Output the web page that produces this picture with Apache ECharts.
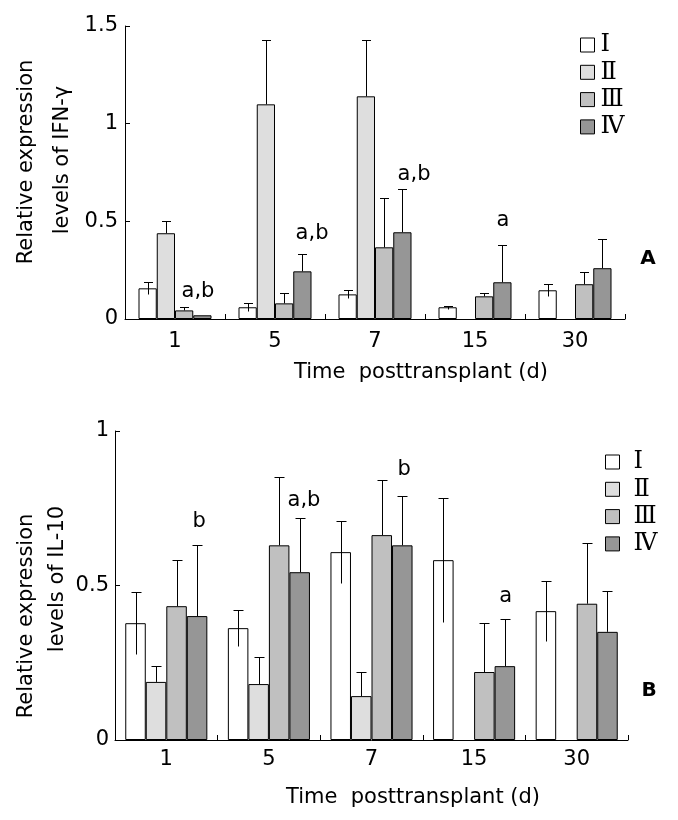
<!DOCTYPE html>
<html><head><meta charset="utf-8">
<script src="https://cdn.jsdelivr.net/npm/echarts@6/dist/echarts.min.js"></script>
<style>html,body{margin:0;padding:0;background:#fff}#c{width:678px;height:820px}</style>
</head><body><div id="c"></div>
<script>
// ---- data ----
const categories = ['1', '5', '7', '15', '30'];
const groups = ['Ⅰ', 'Ⅱ', 'Ⅲ', 'Ⅳ'];
const groupColors = ['#ffffff', '#dedede', '#c0c0c0', '#969696'];

// IFN-γ (panel A): means and SD
const ifnI   = [0.157, 0.060, 0.126, 0.060, 0.147];
const ifnII  = [0.439, 1.099, 1.140, null, null];
const ifnIII = [0.044, 0.080, 0.367, 0.116, 0.178];
const ifnIV  = [0.019, 0.244, 0.444, 0.188, 0.260];
const ifnErrI   = [0.030, 0.020, 0.020, 0.007, 0.030];
const ifnErrII  = [0.063, 0.328, 0.287, null, null];
const ifnErrIII = [0.016, 0.052, 0.251, 0.016, 0.061];
const ifnErrIV  = [null, 0.087, 0.220, 0.189, 0.148];

// IL-10 (panel B): means and SD
const il10I   = [0.378, 0.362, 0.608, 0.582, 0.417];
const il10II  = [0.188, 0.181, 0.142, null, null];
const il10III = [0.433, 0.630, 0.663, 0.220, 0.441];
const il10IV  = [0.401, 0.543, 0.630, 0.239, 0.350];
const il10ErrI   = [0.100, 0.058, 0.100, 0.200, 0.098];
const il10ErrII  = [0.051, 0.087, 0.077, null, null];
const il10ErrIII = [0.149, 0.220, 0.178, 0.159, 0.196];
const il10ErrIV  = [0.229, 0.175, 0.159, 0.152, 0.132];

// significance annotations: category index, bar-slot position, value height, text
const ifnAnnCat  = [0, 1, 2, 3];
const ifnAnnSlot = [2.76, 3.53, 3.64, 3.03];
const ifnAnnY    = [0.143, 0.435, 0.737, 0.503];
const ifnAnnText = ['a,b', 'a,b', 'a,b', 'a'];

const il10AnnCat  = [0, 1, 2, 3];
const il10AnnSlot = [3.10, 3.21, 3.09, 3.04];
const il10AnnY    = [0.706, 0.774, 0.874, 0.464];
const il10AnnText = ['b', 'a,b', 'b', 'a'];

const yTicksA = {min: 0, max: 1.5, interval: 0.5};
const yTicksB = {min: 0, max: 1, interval: 0.5};

// ---- build ----
const FONT = 'DejaVu Sans';
const gapA = 0.27, gapB = 0.20;

function errData(means, errs, symmetricFlags) {
  const out = [];
  means.forEach((m, g) => {
    m.forEach((v, c) => {
      const e = errs[g][c];
      if (v != null && e != null) out.push([c, g, v, e, symmetricFlags[g]]);
    });
  });
  return out;
}

function errRender(gap, cap) {
  return function (params, api) {
    const cat = api.value(0), slot = api.value(1), mean = api.value(2), err = api.value(3), sym = api.value(4);
    const c = api.coord([cat, mean]);
    const catW = api.size([1, 0])[0];
    const bw = catW * (1 - gap) / 4;
    const x = Math.round(c[0] - 2 * bw + (slot + 0.5) * bw) + 0.5;
    const top = Math.round(api.coord([cat, mean + err])[1]) + 0.5;
    const bot = sym ? Math.round(api.coord([cat, mean - err])[1]) + 0.5 : c[1];
    return {
      type: 'group', children: [
        {type: 'line', shape: {x1: x, y1: top, x2: x, y2: bot}, style: {stroke: '#000', lineWidth: 1}},
        {type: 'line', shape: {x1: x - cap / 2, y1: top, x2: x + cap / 2, y2: top}, style: {stroke: '#000', lineWidth: 1}}
      ]
    };
  };
}

function annRender(gap, texts) {
  return function (params, api) {
    const cat = api.value(0), slot = api.value(1), yv = api.value(2);
    const c = api.coord([cat, yv]);
    const catW = api.size([1, 0])[0];
    const bw = catW * (1 - gap) / 4;
    const x = c[0] - 2 * bw + (slot + 0.5) * bw;
    return {
      type: 'text', x: x, y: c[1],
      style: {text: texts[params.dataIndex], fill: '#000', font: '21px "' + FONT + '"', align: 'center', verticalAlign: 'middle'}
    };
  };
}

const series = [];
const meansA = [ifnI, ifnII, ifnIII, ifnIV];
const meansB = [il10I, il10II, il10III, il10IV];
groups.forEach((g, i) => {
  series.push({
    type: 'bar', name: g, xAxisIndex: 0, yAxisIndex: 0, data: meansA[i],
    barGap: '0%', barCategoryGap: (gapA * 100) + '%',
    itemStyle: {color: groupColors[i], borderColor: '#000', borderWidth: 1},
    emphasis: {disabled: true}, animation: false
  });
});
groups.forEach((g, i) => {
  series.push({
    type: 'bar', name: g, xAxisIndex: 1, yAxisIndex: 1, data: meansB[i],
    barGap: '0%', barCategoryGap: (gapB * 100) + '%',
    itemStyle: {color: groupColors[i], borderColor: '#000', borderWidth: 1},
    emphasis: {disabled: true}, animation: false
  });
});
series.push({
  type: 'custom', xAxisIndex: 0, yAxisIndex: 0, z: 5, animation: false,
  renderItem: errRender(gapA, 9), encode: {x: 0, y: 2},
  data: errData(meansA, [ifnErrI, ifnErrII, ifnErrIII, ifnErrIV], [1, 0, 0, 0])
});
series.push({
  type: 'custom', xAxisIndex: 1, yAxisIndex: 1, z: 5, animation: false,
  renderItem: errRender(gapB, 10), encode: {x: 0, y: 2},
  data: errData(meansB, [il10ErrI, il10ErrII, il10ErrIII, il10ErrIV], [1, 0, 0, 0])
});
series.push({
  type: 'custom', xAxisIndex: 0, yAxisIndex: 0, z: 6, animation: false,
  renderItem: annRender(gapA, ifnAnnText), encode: {x: 0, y: 2},
  data: ifnAnnCat.map((c, i) => [c, ifnAnnSlot[i], ifnAnnY[i]])
});
series.push({
  type: 'custom', xAxisIndex: 1, yAxisIndex: 1, z: 6, animation: false,
  renderItem: annRender(gapB, il10AnnText), encode: {x: 0, y: 2},
  data: il10AnnCat.map((c, i) => [c, il10AnnSlot[i], il10AnnY[i]])
});

function xAxisCfg(idx, margin) {
  return {
    type: 'category', gridIndex: idx, data: categories,
    axisLine: {lineStyle: {color: '#000', width: 1}},
    axisTick: {show: true, inside: true, length: 5, lineStyle: {color: '#000'}},
    axisLabel: {color: '#000', fontSize: 21, fontFamily: FONT, margin: margin},
    splitLine: {show: false}
  };
}
function yAxisCfg(idx, t, margin) {
  return {
    type: 'value', gridIndex: idx, min: t.min, max: t.max, interval: t.interval,
    axisLine: {show: true, lineStyle: {color: '#000', width: 1}},
    axisTick: {show: true, inside: true, length: 5, lineStyle: {color: '#000'}},
    axisLabel: {color: '#000', fontSize: 21, fontFamily: FONT, margin: margin},
    splitLine: {show: false}
  };
}

function legendCfg(left, top, textPad) {
  return {
    orient: 'vertical', left: left, top: top, data: groups,
    icon: 'rect', itemWidth: 14, itemHeight: 14, itemGap: 3.3,
    itemStyle: {borderColor: '#000', borderWidth: 1},
    textStyle: {color: '#000', fontFamily: 'DejaVu Serif', fontSize: 24, padding: [0, 0, 0, textPad]},
    selectedMode: false
  };
}

function vText(x, y, text) {
  return {type: 'text', x: x, y: y, rotation: Math.PI / 2,
    style: {text: text, fill: '#000', font: '21px "' + FONT + '"', align: 'center', verticalAlign: 'middle'}};
}
function hText(x, y, text, bold) {
  return {type: 'text', x: x, y: y,
    style: {text: text, fill: '#000', font: (bold ? 'bold 20px ' : '21px ') + '"' + FONT + '"', align: 'center', verticalAlign: 'middle'}};
}

const chart = echarts.init(document.getElementById('c'), null, {renderer: 'canvas'});
chart.setOption({
  animation: false,
  backgroundColor: '#fff',
  grid: [
    {left: 125, right: 53, top: 26, bottom: 501},
    {left: 115, right: 50, top: 431, bottom: 80}
  ],
  xAxis: [xAxisCfg(0, 12), xAxisCfg(1, 9)],
  yAxis: [yAxisCfg(0, yTicksA, 7), yAxisCfg(1, yTicksB, 6)],
  legend: [legendCfg(575, 28, 1), legendCfg(600, 445, 9)],
  graphic: [
    vText(27, 162, 'Relative expression'),
    vText(63, 160, 'levels of IFN-γ'),
    vText(27, 616, 'Relative expression'),
    vText(58, 579, 'levels of IL-10'),
    hText(421, 373, 'Time  posttransplant (d)'),
    hText(413, 798, 'Time  posttransplant (d)'),
    hText(648, 259, 'A', true),
    hText(649, 691, 'B', true)
  ],
  series: series
});
</script>
</body></html>
